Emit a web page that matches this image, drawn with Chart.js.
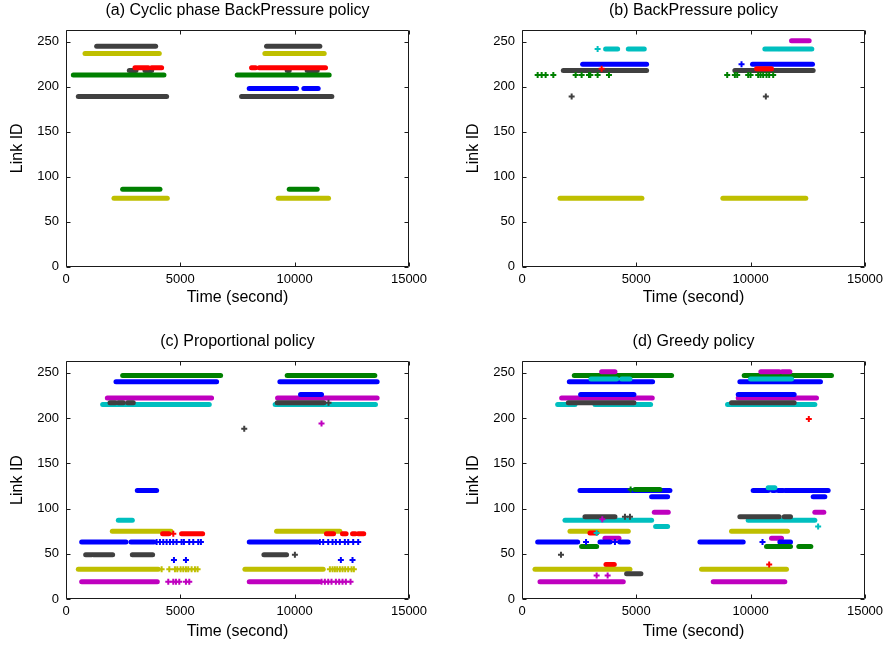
<!DOCTYPE html>
<html><head><meta charset="utf-8">
<script src="https://cdn.jsdelivr.net/npm/chart.js@4.4.1/dist/chart.umd.min.js"></script>
<style>
html,body{margin:0;padding:0;background:#fff;width:891px;height:648px;overflow:hidden;}
.wrap{position:absolute;}
</style></head>
<body>
<div class="wrap" style="left:0;top:0"><canvas id="ca" width="445" height="324"></canvas></div>
<div class="wrap" style="left:456px;top:0"><canvas id="cb" width="435" height="324"></canvas></div>
<div class="wrap" style="left:0;top:331px"><canvas id="cc" width="445" height="317"></canvas></div>
<div class="wrap" style="left:456px;top:331px"><canvas id="cd" width="435" height="317"></canvas></div>
<script>
// ---- data ----
const xTicks = [0, 5000, 10000, 15000];
const yTicks = [0, 50, 100, 150, 200, 250];
const titles = ['(a) Cyclic phase BackPressure policy', '(b) BackPressure policy', '(c) Proportional policy', '(d) Greedy policy'];
const xLabel = 'Time (second)';
const yLabel = 'Link ID';

// segments: [series, linkID, startTime, endTime]; points: [series, linkID, time]
const segA = [
 ['k',245,1341,3920],['k',245,8770,11101],
 ['y',237,831,4080],['y',237,8697,11291],
 ['k',218,2769,3060],['k',218,3453,3745],['k',218,9673,9761],['k',218,10547,10985],
 ['r',221,3016,3599],['r',221,3745,4182],['r',221,8114,8289],['r',221,8449,11349],
 ['g',213,321,4284],['g',213,7488,11509],
 ['b',198,8012,10081],['b',198,10402,11028],
 ['k',189,539,4400],['k',189,7677,11626],
 ['g',86,2477,4109],['g',86,9762,10986],
 ['y',76,2098,4430],['y',76,9281,11481]
];
const ptsA = [];

const segB = [
 ['m',251,11786,12558],
 ['c',242,3657,4182],['c',242,4648,5347],['c',242,10620,11203],['c',242,11276,12675],
 ['b',225,2652,5449],['b',225,10081,12704],
 ['k',218,1807,5449],['k',218,9309,12733],
 ['r',220,10256,10912],
 ['y',76,1661,5244],['y',76,8784,12411]
];
const ptsB = [
 ['c',242,3307],['b',225,9600],['r',220,3482],['k',189,2171],['k',189,10664],
 ['g',213,685],['g',213,860],['g',213,1034],['g',213,1370],['g',213,2346],['g',213,2608],['g',213,2929],['g',213,2987],['g',213,3307],['g',213,3803],
 ['g',213,8974],['g',213,9309],['g',213,9411],['g',213,9892],['g',213,9994],['g',213,10329],['g',213,10431],['g',213,10547],['g',213,10693],['g',213,10810],['g',213,10985]
];

const segC = [
 ['g',247,2477,6761],['g',247,9673,13505],
 ['b',240,2186,6586],['b',240,9353,13607],
 ['m',222,1807,6367],['m',222,9251,13607],
 ['b',226,10256,11174],
 ['c',215,1603,6265],['c',215,9148,13534],
 ['k',217,1924,2157],['k',217,2288,2506],['k',217,2696,2943],['k',217,9236,11276],
 ['b',120,3118,3963],
 ['c',87,2288,2900],
 ['y',75,2025,4590],['y',75,9208,11977],
 ['r',72,4225,4500],['r',72,5055,5975],['r',72,11390,11700],['r',72,12090,12250],['r',72,12530,12650],['r',72,12780,13020],
 ['b',63,685,2623],['b',63,2841,3847],['b',63,8014,10986],
 ['k',49,860,1120],['k',49,1200,2040],['k',49,2900,3788],['k',49,8655,9646],
 ['y',33,539,4036],['y',33,7824,11248],
 ['m',19,685,3992],['m',19,8014,11073]
];
const ptsC = [
 ['k',188,7795],['m',194,11174],['k',217,11480],['r',72,4692],['k',49,10010],
 ['b',63,3962],['b',63,4108],['b',63,4254],['b',63,4400],['b',63,4545],['b',63,4690],['b',63,4836],['b',63,5055],['b',63,5157],['b',63,5390],['b',63,5565],['b',63,5783],['b',63,5900],
 ['b',63,11100],['b',63,11248],['b',63,11467],['b',63,11656],['b',63,11802],['b',63,11977],['b',63,12195],['b',63,12341],['b',63,12560],['b',63,12778],
 ['b',43,4721],['b',43,5245],['b',43,12020],['b',43,12530],
 ['y',33,4182],['y',33,4517],['y',33,4765],['y',33,4867],['y',33,5012],['y',33,5129],['y',33,5245],['y',33,5347],['y',33,5493],['y',33,5639],['y',33,5755],
 ['y',33,11540],['y',33,11656],['y',33,11758],['y',33,11860],['y',33,11977],['y',33,12093],['y',33,12210],['y',33,12341],['y',33,12487],['y',33,12589],
 ['m',19,4473],['m',19,4692],['m',19,4808],['m',19,4954],['m',19,5245],['m',19,5391],
 ['m',19,11175],['m',19,11321],['m',19,11467],['m',19,11612],['m',19,11802],['m',19,11948],['m',19,12093],['m',19,12239],['m',19,12443]
];

const segD = [
 ['g',247,2287,6542],['g',247,9717,13534],
 ['m',251,3482,4065],['m',251,10445,11247],['m',251,11378,11713],
 ['b',240,2069,5711],['b',240,9528,13053],
 ['c',243,3016,4138],['c',243,4356,4721],['c',243,9994,11786],
 ['m',222,1734,5697],['m',222,9455,12879],
 ['b',226,2564,4895],['b',226,9455,11902],
 ['c',215,1559,2317],['c',215,3191,5624],['c',215,8988,12806],
 ['k',217,2025,4895],['k',217,9163,11902],
 ['b',120,2535,6469],['b',120,10110,10766],['b',120,10955,11057],['b',120,11203,11422],['b',120,11524,13389],
 ['g',121,4939,6032],
 ['c',123,10766,11057],
 ['b',113,5668,6367],['b',113,12733,13243],
 ['m',96,5785,6396],['m',96,12806,13199],
 ['c',87,1880,5668],['c',87,9892,12806],
 ['k',91,2754,4065],['k',91,9528,11247],['k',91,11465,11742],
 ['c',80,5843,6367],
 ['y',75,2098,4648],['y',75,9163,11611],
 ['r',73,2972,3264],
 ['m',67,3628,4240],['m',67,10912,11349],
 ['b',63,685,2435],['b',63,3410,3850],['b',63,4280,4645],['b',63,7779,9673],['b',63,11276,11742],
 ['g',58,2608,3264],['g',58,10693,11742],['g',58,12106,12631],
 ['r',38,3672,4036],
 ['y',33,568,4721],['y',33,7852,11567],
 ['k',28,4575,5201],
 ['m',19,787,4429],['m',19,8362,11494]
];
const ptsD = [
 ['g',121,4750],['k',91,4502],['k',91,4721],['m',88,3511],['c',73,3264],
 ['b',63,2800],['b',63,4065],['b',63,10518],['k',49,1705],
 ['m',26,3264],['m',26,3745],['r',199,12543],['c',80,12951],['r',38,10810]
];

// ---- styling ----
const COLORS = {k:'#404040', y:'#BFBF00', g:'#008000', r:'#FF0000', b:'#0000FF', c:'#00BFBF', m:'#BF00BF'};
const FONT = '"Liberation Sans", Arial, sans-serif';

function makeDatasets(segs, pts) {
  const ds = segs.map(([c, l, s, e]) => ({
    data: [{x: s, y: l}, {x: e, y: l}], showLine: true,
    borderColor: COLORS[c], backgroundColor: COLORS[c], borderWidth: 5,
    borderCapStyle: 'round', pointRadius: 0, pointHoverRadius: 0
  }));
  const groups = {};
  pts.forEach(([c, l, t]) => { (groups[c] = groups[c] || []).push({x: t, y: l}); });
  Object.keys(groups).forEach(c => ds.push({
    data: groups[c], showLine: false, pointStyle: 'cross', pointRadius: 3,
    pointBorderWidth: 2, borderColor: COLORS[c], backgroundColor: COLORS[c]
  }));
  return ds.reverse(); // later entries drawn on top
}

const boxPlugin = {
  id: 'box',
  afterDraw(chart) {
    const {ctx, chartArea: {left, right, top, bottom}, scales: {x, y}} = chart;
    const L = Math.round(left) + 0.5, R = Math.round(right) - 0.5, T = Math.round(top) + 0.5, B = Math.round(bottom) - 0.5;
    ctx.save();
    ctx.strokeStyle = '#1a1a1a'; ctx.lineWidth = 1;
    ctx.beginPath();
    ctx.moveTo(L, T); ctx.lineTo(R, T); ctx.lineTo(R, B); ctx.lineTo(L, B); ctx.closePath();
    x.ticks.forEach(t => {
      const px = Math.round(x.getPixelForValue(t.value)) + 0.5;
      ctx.moveTo(px, B); ctx.lineTo(px, B - 4);
      ctx.moveTo(px, T); ctx.lineTo(px, T + 4);
    });
    y.ticks.forEach(t => {
      const py = Math.round(y.getPixelForValue(t.value)) + 0.5;
      ctx.moveTo(L, py); ctx.lineTo(L + 4, py);
      ctx.moveTo(R, py); ctx.lineTo(R - 4, py);
    });
    ctx.stroke();
    ctx.restore();
  }
};

function makeChart(id, title, segs, pts, cfg) {
  new Chart(document.getElementById(id), {
    type: 'scatter',
    data: {datasets: makeDatasets(segs, pts)},
    plugins: [boxPlugin],
    options: {
      animation: false, responsive: false, devicePixelRatio: 1, events: [],
      layout: {padding: {left: 0, right: cfg.padR, top: 0, bottom: 0}},
      plugins: {
        legend: {display: false}, tooltip: {enabled: false},
        title: {display: true, text: title, color: '#000', fullSize: false,
          font: {family: FONT, size: 16, weight: 'normal'},
          padding: {top: cfg.tTop, bottom: 30 - 19.2 - cfg.tTop}}
      },
      scales: {
        x: {
          type: 'linear', min: 0, max: 15000,
          afterBuildTicks: s => { s.ticks = xTicks.map(v => ({value: v})); },
          afterFit: s => { s.height = cfg.xH; },
          grid: {display: false, drawTicks: false},
          border: {display: false},
          ticks: {color: '#000', font: {family: FONT, size: 13}, padding: 5, maxRotation: 0, autoSkip: false, callback: v => String(v)},
          title: {display: true, text: xLabel, color: '#000', font: {family: FONT, size: 16}, padding: {top: 0, bottom: cfg.xTB}}
        },
        y: {
          type: 'linear', min: 0, max: 263,
          afterBuildTicks: s => { s.ticks = yTicks.map(v => ({value: v})); },
          afterFit: s => { s.width = 66; },
          grid: {display: false, drawTicks: false},
          border: {display: false},
          ticks: {color: '#000', font: {family: FONT, size: 13}, padding: 7, callback: v => String(v)},
          title: {display: true, text: yLabel, color: '#000', font: {family: FONT, size: 16}, padding: {top: 8.4, bottom: 0}}
        }
      }
    }
  });
}

makeChart('ca', titles[0], segA, ptsA, {padR: 36, tTop: 0.5, xH: 57.5, xTB: 16.4});
makeChart('cb', titles[1], segB, ptsB, {padR: 26, tTop: 0.5, xH: 57.5, xTB: 16.4});
makeChart('cc', titles[2], segC, ptsC, {padR: 36, tTop: 1.4, xH: 49, xTB: 6.4});
makeChart('cd', titles[3], segD, ptsD, {padR: 26, tTop: 1.4, xH: 49, xTB: 6.4});
</script>
</body></html>
